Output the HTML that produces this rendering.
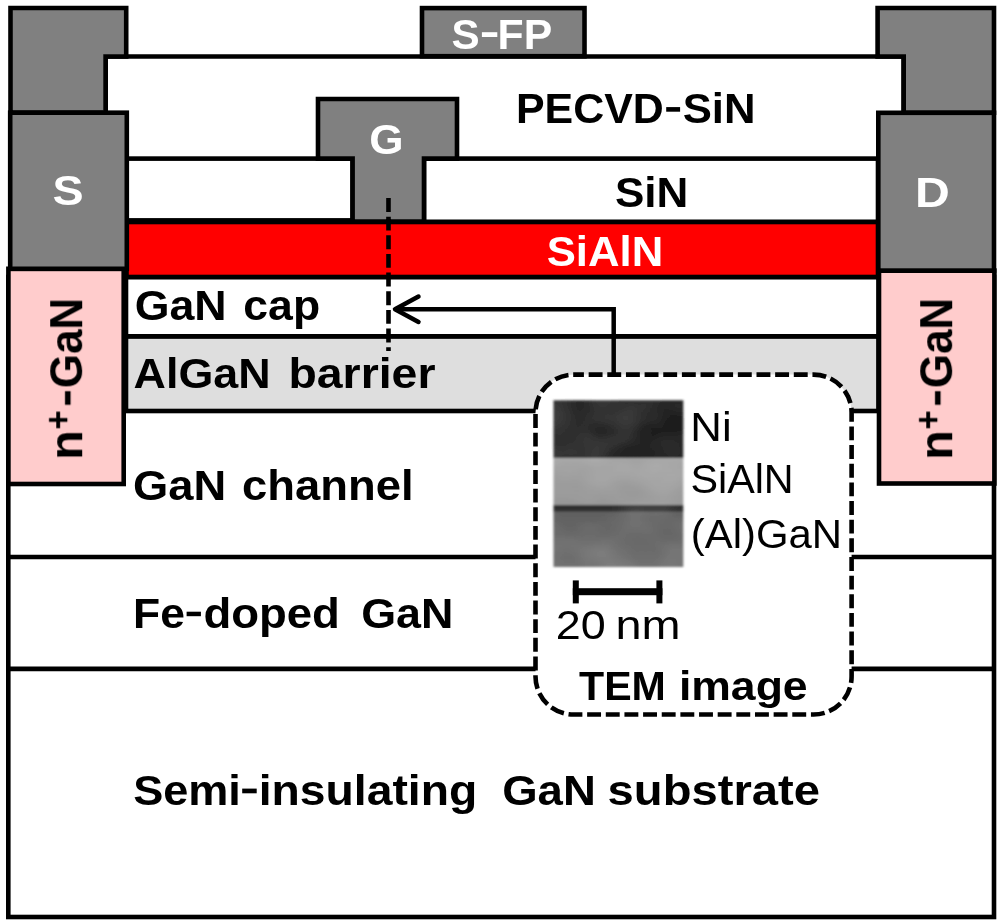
<!DOCTYPE html>
<html><head><meta charset="utf-8"><title>Device cross-section</title>
<style>html,body{margin:0;padding:0;background:#fff}svg{display:block}text{font-family:"Liberation Sans",sans-serif}</style></head>
<body>
<svg width="1000" height="924" viewBox="0 0 1000 924">
<defs>
<linearGradient id="gNi" x1="0" y1="0" x2="1" y2="0"><stop offset="0" stop-color="#292929"/><stop offset="0.6" stop-color="#232323"/><stop offset="1" stop-color="#1a1a1a"/></linearGradient>
<linearGradient id="gSi" x1="0" y1="0" x2="0" y2="1"><stop offset="0" stop-color="#a4a4a4"/><stop offset="1" stop-color="#969696"/></linearGradient>
<linearGradient id="gAl" x1="0" y1="0" x2="0" y2="1"><stop offset="0" stop-color="#606060"/><stop offset="1" stop-color="#707070"/></linearGradient>
<filter id="bl" x="-5%" y="-5%" width="110%" height="110%"><feGaussianBlur stdDeviation="0.8"/></filter>
<filter id="tb" x="0" y="0" width="1000" height="924" filterUnits="userSpaceOnUse"><feGaussianBlur stdDeviation="0.2"/></filter>
<filter id="tx" x="0" y="0" width="100%" height="100%"><feTurbulence type="fractalNoise" baseFrequency="0.022 0.03" numOctaves="2" seed="11"/><feColorMatrix type="matrix" values="0 0 0 0 1  0 0 0 0 1  0 0 0 0 1  0.24 0 0 0 -0.085"/></filter>
<filter id="gb" x="-10" y="-10" width="1020" height="944" filterUnits="userSpaceOnUse"><feGaussianBlur stdDeviation="0.75"/></filter>
</defs>
<rect x="0" y="0" width="1000" height="924" fill="#fff"/>
<g filter="url(#gb)">
<g stroke="#000" stroke-width="4.6" stroke-linejoin="miter" fill="none">
<rect x="8.3" y="277" width="985.7" height="640" fill="#fff"/>
<line x1="8.3" y1="557" x2="994.0" y2="557"/>
<line x1="8.3" y1="668.9" x2="994.0" y2="668.9"/>
<rect x="126" y="336.3" width="752.5" height="74.69999999999999" fill="#dedede"/>
<rect x="126" y="277" width="752.5" height="59.30000000000001" fill="#fff"/>
<rect x="126.5" y="158.6" width="226.10000000000002" height="61.80000000000001" fill="#fff"/>
<rect x="424" y="158.6" width="454" height="63.400000000000006" fill="#fff"/>
<polyline points="105.6,112.7 105.6,56.5 903.7,56.5 903.7,112.7" fill="#fff"/>
<rect x="126.5" y="222" width="751.5" height="55" fill="#ff0000"/>
<rect x="8.4" y="268.8" width="115.3" height="215.2" fill="#ffcccc"/>
<rect x="879" y="270.6" width="115.39999999999998" height="212.89999999999998" fill="#ffcccc"/>
<polygon points="10.5,8 126.2,8 126.2,56.5 105.6,56.5 105.6,112.7 10.5,112.7" fill="#808080"/>
<rect x="10.2" y="112.7" width="116.6" height="156.10000000000002" fill="#808080"/>
<polygon points="877.6,8 994.0,8 994.0,112.8 903.7,112.8 903.7,56.5 877.6,56.5" fill="#808080"/>
<rect x="878.3" y="112.8" width="115.70000000000005" height="157.8" fill="#808080"/>
<rect x="422" y="8.1" width="162.5" height="48.1" fill="#808080"/>
<polygon points="318,99 457,99 457,158.6 424,158.6 424,221.5 352.6,221.5 352.6,158.6 318,158.6" fill="#808080"/>
</g>
<line x1="388.5" y1="198" x2="388.5" y2="351" stroke="#000" stroke-width="4.6" stroke-dasharray="13.9 4.75"/>
<g stroke="#000" stroke-width="4.5" fill="none"><polyline points="613.7,374 613.7,309.2 395,309.2" stroke-linejoin="miter"/><polyline points="418.5,296.5 395,309.2 418.5,322" stroke-linecap="round" stroke-linejoin="round"/></g>
<rect x="535.5" y="374.6" width="316.1" height="339.9" rx="38" ry="38" fill="#fff" stroke="#000" stroke-width="4.6" stroke-dasharray="13.9 4.75" stroke-dashoffset="3.5"/>
<g filter="url(#bl)">
<rect x="553.5" y="400.3" width="129.8" height="58" fill="url(#gNi)"/>
<rect x="553.5" y="458" width="129.8" height="48" fill="url(#gSi)"/>
<rect x="553.5" y="511" width="129.8" height="56" fill="url(#gAl)"/>
<rect x="553.5" y="505" width="129.8" height="6.5" fill="#2e2e2e"/>
<rect x="553.5" y="400.3" width="129.8" height="166.7" fill="#fff" filter="url(#tx)"/>
</g>
<g fill="#000"><rect x="572.8" y="588.2" width="89.6" height="7"/><rect x="572.8" y="580.4" width="6" height="23"/><rect x="656.4" y="580.4" width="6" height="23"/></g>
<g filter="url(#tb)">
<text transform="translate(451.44 49.00) scale(0.9783 1)" font-size="43.1" font-weight="bold" fill="#fff">S</text>
<text transform="translate(497.61 49.00) scale(0.9915 1)" font-size="43.1" font-weight="bold" fill="#fff">FP</text>
<text transform="translate(516.00 122.80) scale(1.0097 1)" font-size="42.5" font-weight="bold" fill="#000">PECVD</text>
<text transform="translate(682.69 122.80) scale(1.0281 1)" font-size="42.5" font-weight="bold" fill="#000">SiN</text>
<text transform="translate(369.24 153.50) scale(1.0381 1)" font-size="42.5" font-weight="bold" fill="#fff">G</text>
<text transform="translate(52.40 204.50) scale(1.0980 1)" font-size="42.5" font-weight="bold" fill="#fff">S</text>
<text transform="translate(915.03 207.30) scale(1.1340 1)" font-size="42.5" font-weight="bold" fill="#fff">D</text>
<text transform="translate(614.88 207.00) scale(1.0371 1)" font-size="42.5" font-weight="bold" fill="#000">SiN</text>
<text transform="translate(546.69 265.70) scale(1.0282 1)" font-size="42.5" font-weight="bold" fill="#fff">SiAlN</text>
<text transform="translate(134.71 320.30) scale(1.0522 1)" font-size="42.5" font-weight="bold" fill="#000">GaN</text>
<text transform="translate(243.32 320.30) scale(1.0488 1)" font-size="42.5" font-weight="bold" fill="#000">cap</text>
<text transform="translate(133.56 387.90) scale(1.0548 1)" font-size="42.5" font-weight="bold" fill="#000">AlGaN</text>
<text transform="translate(288.45 387.90) scale(1.0917 1)" font-size="42.5" font-weight="bold" fill="#000">barrier</text>
<text transform="translate(133.09 499.60) scale(1.0667 1)" font-size="42.5" font-weight="bold" fill="#000">GaN</text>
<text transform="translate(241.98 499.60) scale(1.0688 1)" font-size="42.5" font-weight="bold" fill="#000">channel</text>
<text transform="translate(133.09 627.80) scale(1.0455 1)" font-size="42.5" font-weight="bold" fill="#000">Fe</text>
<text transform="translate(203.38 627.80) scale(1.0714 1)" font-size="42.5" font-weight="bold" fill="#000">doped</text>
<text transform="translate(361.21 627.80) scale(1.0558 1)" font-size="42.5" font-weight="bold" fill="#000">GaN</text>
<text transform="translate(133.15 804.80) scale(1.0604 1)" font-size="42.5" font-weight="bold" fill="#000">Semi</text>
<text transform="translate(258.76 804.80) scale(1.0888 1)" font-size="42.5" font-weight="bold" fill="#000">insulating</text>
<text transform="translate(502.18 804.80) scale(1.0715 1)" font-size="42.5" font-weight="bold" fill="#000">GaN</text>
<text transform="translate(607.61 804.80) scale(1.1101 1)" font-size="42.5" font-weight="bold" fill="#000">substrate</text>
<text transform="translate(579.09 699.50) scale(1.0156 1)" font-size="40.5" font-weight="bold" fill="#000">TEM</text>
<text transform="translate(678.88 699.50) scale(1.1000 1)" font-size="40.5" font-weight="bold" fill="#000">image</text>
<text transform="translate(690.30 441.40) scale(1.0542 1)" font-size="41.5" font-weight="normal" fill="#000">Ni</text>
<text transform="translate(690.43 492.60) scale(0.9954 1)" font-size="41.5" font-weight="normal" fill="#000">SiAlN</text>
<text transform="translate(690.79 548.20) scale(1.0097 1)" font-size="41.5" font-weight="normal" fill="#000">(Al)GaN</text>
<text transform="translate(555.75 639.20) scale(1.0820 1)" font-size="41.5" font-weight="normal" fill="#000">20</text>
<text transform="translate(615.52 639.20) scale(1.1296 1)" font-size="41.5" font-weight="normal" fill="#000">nm</text>
<rect x="481.9" y="32.2" width="15.4" height="4.8" fill="#fff"/>
<rect x="666.2" y="107.1" width="13.9" height="4.6" fill="#000"/>
<rect x="186.6" y="611.7" width="14.3" height="4.5" fill="#000"/>
<rect x="242.2" y="788.6" width="14.5" height="4.7" fill="#000"/>
<g transform="translate(82.2 456.4) rotate(-90)" fill="#000">
<text transform="translate(-3.41 0) scale(1.0738 1)" font-size="45.4" font-weight="bold">n</text>
<text transform="translate(68.24 0) scale(0.9680 1)" font-size="45.4" font-weight="bold">GaN</text>
<rect x="51.6" y="-17.2" width="13.6" height="5.6"/>
<rect x="28.2" y="-25.9" width="16.5" height="3.8"/>
<rect x="34.55" y="-33.2" width="3.8" height="18.4"/>
</g>
<g transform="translate(952.2 456.4) rotate(-90)" fill="#000">
<text transform="translate(-3.41 0) scale(1.0738 1)" font-size="45.4" font-weight="bold">n</text>
<text transform="translate(68.24 0) scale(0.9680 1)" font-size="45.4" font-weight="bold">GaN</text>
<rect x="51.6" y="-17.2" width="13.6" height="5.6"/>
<rect x="28.2" y="-25.9" width="16.5" height="3.8"/>
<rect x="34.55" y="-33.2" width="3.8" height="18.4"/>
</g>
</g>
</g>
</svg>
</body></html>
